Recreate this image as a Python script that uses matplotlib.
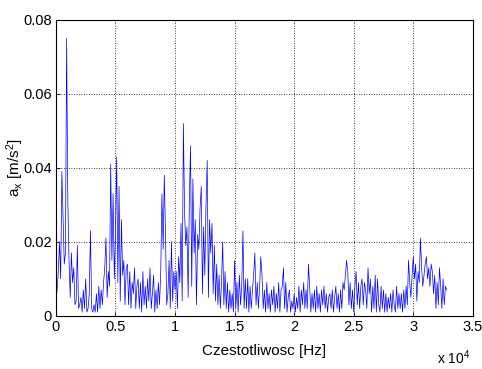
import numpy as np
import matplotlib
matplotlib.use("Agg")
import matplotlib.pyplot as plt

# spectrum amplitude, one value every 100 Hz from 0 to 32.8 kHz, in 1e-3 m/s^2
step_hz = 100.0
amp_milli = [
    4, 7, 12, 20, 10, 39, 27, 14, 17, 75,
    31, 15, 5, 17, 9, 13, 3, 4, 19, 2,
    3, 5, 1, 7, 2, 10, 1, 2, 6, 23,
    2, 1, 3, 1, 6, 1, 8, 2, 7, 3,
    9, 13, 21, 5, 12, 8, 41, 15, 33, 10,
    22, 43, 9, 35, 4, 26, 11, 15, 3, 13,
    14, 3, 12, 2, 9, 6, 13, 2, 8, 10,
    2, 9, 1, 12, 3, 8, 2, 10, 4, 13,
    2, 6, 11, 1, 7, 2, 9, 3, 12, 33,
    18, 38, 22, 3, 6, 15, 2, 20, 4, 12,
    7, 12, 2, 16, 9, 25, 4, 52, 28, 19,
    24, 5, 31, 46, 8, 37, 17, 26, 3, 22,
    18, 29, 35, 6, 24, 11, 30, 42, 5, 26,
    17, 25, 6, 19, 4, 14, 3, 11, 2, 9,
    20, 3, 12, 2, 9, 1, 7, 2, 6, 1,
    15, 2, 9, 1, 11, 3, 8, 23, 2, 10,
    2, 10, 1, 8, 2, 7, 11, 17, 3, 9,
    2, 8, 16, 11, 2, 7, 1, 9, 2, 6,
    1, 7, 3, 8, 1, 6, 2, 9, 1, 7,
    8, 13, 2, 9, 1, 5, 7, 1, 4, 2,
    6, 1, 5, 2, 8, 1, 7, 3, 9, 2,
    7, 2, 14, 8, 1, 6, 2, 7, 1, 8,
    2, 6, 1, 7, 3, 8, 2, 6, 1, 5,
    6, 2, 7, 1, 5, 8, 2, 6, 1, 7,
    2, 9, 7, 11, 15, 12, 3, 9, 2, 7,
    1, 8, 12, 3, 9, 2, 8, 10, 3, 9,
    7, 2, 13, 6, 10, 1, 8, 2, 11, 1,
    10, 3, 1, 8, 2, 7, 1, 6, 1, 5,
    2, 6, 1, 7, 3, 1, 8, 2, 6, 2,
    6, 1, 7, 2, 8, 3, 15, 9, 5, 11,
    16, 10, 14, 4, 12, 9, 21, 13, 8, 11,
    14, 16, 10, 13, 8, 14, 12, 6, 11, 2,
    9, 3, 13, 8, 2, 10, 3, 8, 7,
]
x_ticks = [0, 0.5, 1, 1.5, 2, 2.5, 3, 3.5]
y_ticks = [0, 0.02, 0.04, 0.06, 0.08]
y_tick_labels = ["0", "0.02", "0.04", "0.06", "0.08"]

amp = np.array(amp_milli) * 1e-3
freq = np.arange(len(amp)) * step_hz / 1e4  # plotted in units of 1e4 Hz

plt.rcParams["font.family"] = ["Liberation Sans", "DejaVu Sans"]
plt.rcParams["mathtext.fontset"] = "custom"
plt.rcParams["mathtext.rm"] = "Liberation Sans"
plt.rcParams["mathtext.it"] = "Liberation Sans"

fig = plt.figure(figsize=(4.82, 3.69), dpi=100)
ax = fig.add_axes([0.116, 0.144, 0.865, 0.802])
ax.plot(freq, amp, color=(0, 0, 1), linewidth=0.5)

ax.set_xlim(0, 3.5)
ax.set_ylim(0, 0.08)
ax.set_xticks(x_ticks)
ax.set_xticklabels([f"{t:g}" for t in x_ticks])
ax.set_yticks(y_ticks)
ax.set_yticklabels(y_tick_labels)
ax.tick_params(direction="in", length=3, width=0.6, labelsize=10.5, pad=3)
ax.grid(True, color="black", linestyle=(0, (1, 2)), linewidth=0.6)
for s in ax.spines.values():
    s.set_linewidth(0.8)

ax.set_xlabel("Czestotliwosc [Hz]", fontsize=11)
ax.xaxis.set_label_coords(0.5, -0.095)
ax.set_ylabel("a$_\\mathregular{x}$ [m/s$^\\mathregular{2}$]", fontsize=11)
ax.yaxis.set_label_coords(-0.072, 0.5)
ax.text(0.995, -0.14, "x 10$^\\mathregular{4}$", transform=ax.transAxes,
        ha="right", va="center", fontsize=10)

fig.savefig("out.png", dpi=100)
